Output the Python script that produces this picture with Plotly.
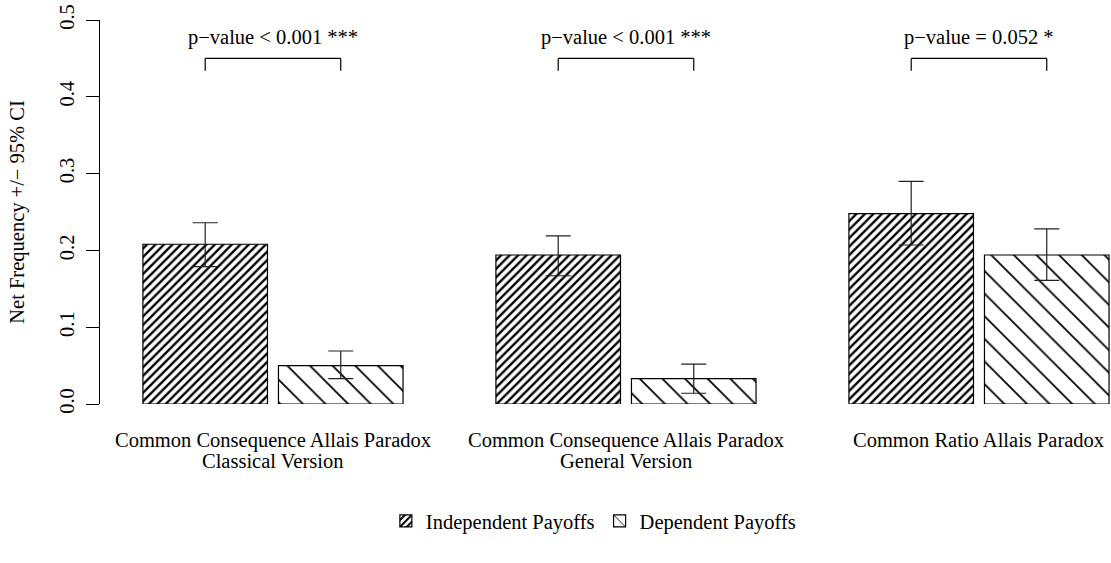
import plotly.graph_objects as go

categories = ["Common Consequence Allais Paradox\nClassical Version",
              "Common Consequence Allais Paradox\nGeneral Version",
              "Common Ratio Allais Paradox"]
indep_mean = [0.208, 0.194, 0.248]
indep_upper = [0.236, 0.219, 0.290]
indep_lower = [0.179, 0.167, 0.207]
dep_mean = [0.050, 0.033, 0.194]
dep_upper = [0.069, 0.052, 0.228]
dep_lower = [0.033, 0.014, 0.161]
p_labels = ["p\u2212value < 0.001 ***", "p\u2212value < 0.001 ***", "p\u2212value = 0.052 *"]
y_ticks = [0.0, 0.1, 0.2, 0.3, 0.4, 0.5]

FONT = "Liberation Serif, Times New Roman, serif"
FS = 20.5
BARGAP = 0.232
BARGROUPGAP = 0.081

def err(mean, up, lo):
    return dict(type="data", symmetric=False,
                array=[u - m for u, m in zip(up, mean)],
                arrayminus=[m - l for m, l in zip(mean, lo)],
                color="#222222", thickness=1.2, width=12.5)

fig = go.Figure()
fig.add_trace(go.Bar(
    name="Independent Payoffs", x=categories, y=indep_mean,
    marker=dict(color="white", line=dict(color="black", width=1.2),
                pattern=dict(shape="/", size=6, solidity=0.4, fgcolor="black",
                             fgopacity=1, bgcolor="white")),
    error_y=err(indep_mean, indep_upper, indep_lower)))
fig.add_trace(go.Bar(
    name="Dependent Payoffs", x=categories, y=dep_mean,
    marker=dict(color="white", line=dict(color="black", width=1.2),
                pattern=dict(shape="\\", size=16, solidity=0.11, fgcolor="black",
                             fgopacity=1, bgcolor="white")),
    error_y=err(dep_mean, dep_upper, dep_lower)))

half = (1 - BARGAP) / 4
for i, lab in enumerate(p_labels):
    x0, x1 = i - half, i + half
    fig.add_shape(type="line", xref="x", yref="y", x0=x0, x1=x1, y0=0.45, y1=0.45,
                  line=dict(color="black", width=1.2))
    fig.add_shape(type="line", xref="x", yref="y", x0=x0, x1=x0, y0=0.45, y1=0.434,
                  line=dict(color="black", width=1.2))
    fig.add_shape(type="line", xref="x", yref="y", x0=x1, x1=x1, y0=0.45, y1=0.434,
                  line=dict(color="black", width=1.2))
    fig.add_annotation(x=i, y=0.477, xref="x", yref="y", text=lab, showarrow=False,
                       font=dict(family=FONT, size=FS, color="black"))

# category labels, one text line per annotation (R-like tight line spacing)
for i, cat in enumerate(categories):
    for j, line in enumerate(cat.split("\n")):
        fig.add_annotation(x=cat, y=0, xref="x", yref="y", text=line, showarrow=False,
                           yanchor="middle", yshift=-36 - 21 * j,
                           font=dict(family=FONT, size=FS, color="black"))

fig.update_layout(
    width=1111, height=563,
    margin=dict(l=100, r=0, t=20, b=159, autoexpand=False),
    paper_bgcolor="white", plot_bgcolor="white",
    barmode="group", bargap=BARGAP, bargroupgap=BARGROUPGAP,
    font=dict(family=FONT, size=FS, color="black"),
    showlegend=True,
    legend=dict(orientation="h", x=0.488, xanchor="center", y=-0.305, yanchor="middle",
                font=dict(family=FONT, size=FS), itemwidth=30, traceorder="normal"),
    xaxis=dict(range=[-0.490, 2.374], showline=False, ticks="", showgrid=False,
               zeroline=False, showticklabels=False, automargin=False),
    yaxis=dict(range=[0, 0.5], tickvals=y_ticks, tickformat=".1f", showline=True,
               linecolor="black", linewidth=1.2, ticks="outside", ticklen=13,
               tickcolor="black", tickwidth=1.2, tickangle=-90, showgrid=False,
               zeroline=False, ticklabelstandoff=4, ticklabeloverflow="allow",
               automargin=False, tickfont=dict(size=FS),
               title=dict(text="Net Frequency +/\u2212 95% CI", standoff=25,
                          font=dict(size=FS))),
)

fig.write_html("out.html", config={"displayModeBar": False},
               post_script="document.body.style.margin='0';")
